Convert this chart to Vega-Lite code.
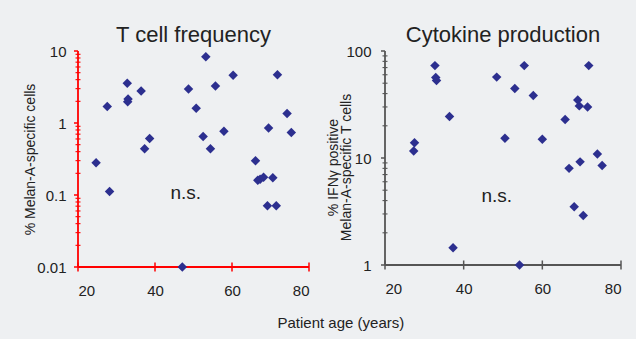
{
  "$schema": "https://vega.github.io/schema/vega-lite/v6.json",
  "background": "#eef0f2",
  "padding": {"left": 23, "top": 24, "right": 14, "bottom": 9},
  "spacing": 16,
  "config": {
    "font": "Liberation Sans",
    "view": {"stroke": null},
    "axis": {
      "grid": false,
      "domain": false,
      "ticks": false,
      "labelColor": "#222222",
      "titleColor": "#222222",
      "labelFontSize": 15,
      "titleFontSize": 14,
      "titleFontWeight": "normal"
    },
    "title": {"font": "Liberation Sans", "fontWeight": "normal", "color": "#222222"}
  },
  "title": {"text": "Patient age (years)", "orient": "bottom", "anchor": "middle", "fontSize": 15, "offset": 18, "dx": 18},
  "hconcat": [
    {
      "width": 231,
      "height": 216,
      "title": {"text": "T cell frequency", "fontSize": 22, "offset": -3},
      "layer": [
        {
          "data": {"values": [{"x": 20, "x2": 80, "y": 0.01, "y2": 0.01}, {"x": 20, "x2": 20, "y": 0.01, "y2": 10}]},
          "mark": {"type": "rule", "color": "red", "strokeWidth": 1.8, "opacity": 1},
          "encoding": {
            "x": {"field": "x", "type": "quantitative", "scale": {"domain": [20, 80]}, "axis": {"values": [20, 40, 60, 80], "title": null, "labelPadding": 16}},
            "x2": {"field": "x2"},
            "y": {"field": "y", "type": "quantitative", "scale": {"type": "log", "domain": [0.01, 10]},
              "axis": {"values": [0.01, 0.1, 1, 10], "title": "% Melan-A-specific cells", "labelPadding": 12, "titlePadding": -1,
                "labelExpr": "datum.value == 0.01 ? '0.01' : datum.value == 0.1 ? '0.1' : format(datum.value, 'd')"}},
            "y2": {"field": "y2"}
          }
        },
        {
          "data": {"values": [{"x": 20, "y": 0.01}, {"x": 40, "y": 0.01}, {"x": 60, "y": 0.01}, {"x": 80, "y": 0.01}]},
          "mark": {"type": "tick", "orient": "vertical", "color": "red", "size": 9, "thickness": 1.5, "opacity": 1},
          "encoding": {
            "x": {"field": "x", "type": "quantitative"},
            "y": {"field": "y", "type": "quantitative"}
          }
        },
        {
          "data": {"values": [{"x": 20, "y": 0.01}, {"x": 20, "y": 0.1}, {"x": 20, "y": 1}, {"x": 20, "y": 10}]},
          "mark": {"type": "tick", "orient": "horizontal", "color": "red", "size": 4, "thickness": 1.5, "opacity": 1, "xOffset": -2},
          "encoding": {
            "x": {"field": "x", "type": "quantitative"},
            "y": {"field": "y", "type": "quantitative"}
          }
        },
        {
          "data": {"values": [
            {"x": 20, "y": 0.02}, {"x": 20, "y": 0.03}, {"x": 20, "y": 0.04}, {"x": 20, "y": 0.05}, {"x": 20, "y": 0.06}, {"x": 20, "y": 0.07}, {"x": 20, "y": 0.08}, {"x": 20, "y": 0.09},
            {"x": 20, "y": 0.2}, {"x": 20, "y": 0.3}, {"x": 20, "y": 0.4}, {"x": 20, "y": 0.5}, {"x": 20, "y": 0.6}, {"x": 20, "y": 0.7}, {"x": 20, "y": 0.8}, {"x": 20, "y": 0.9},
            {"x": 20, "y": 2}, {"x": 20, "y": 3}, {"x": 20, "y": 4}, {"x": 20, "y": 5}, {"x": 20, "y": 6}, {"x": 20, "y": 7}, {"x": 20, "y": 8}, {"x": 20, "y": 9}
          ]},
          "mark": {"type": "tick", "orient": "horizontal", "color": "red", "size": 5, "thickness": 1.1, "opacity": 1},
          "encoding": {
            "x": {"field": "x", "type": "quantitative"},
            "y": {"field": "y", "type": "quantitative"}
          }
        },
        {
          "data": {"values": [
            {"x": 24.7, "y": 0.28},
            {"x": 27.6, "y": 1.69},
            {"x": 28.2, "y": 0.112},
            {"x": 32.8, "y": 3.56},
            {"x": 33.0, "y": 2.15},
            {"x": 32.9, "y": 1.98},
            {"x": 36.4, "y": 2.78},
            {"x": 37.3, "y": 0.44},
            {"x": 38.6, "y": 0.61},
            {"x": 47.1, "y": 0.01},
            {"x": 48.7, "y": 2.97},
            {"x": 50.7, "y": 1.6},
            {"x": 52.5, "y": 0.65},
            {"x": 53.2, "y": 8.3},
            {"x": 54.4, "y": 0.44},
            {"x": 55.7, "y": 3.27},
            {"x": 57.9, "y": 0.77},
            {"x": 60.3, "y": 4.6},
            {"x": 66.1, "y": 0.30},
            {"x": 66.7, "y": 0.16},
            {"x": 67.3, "y": 0.165},
            {"x": 68.2, "y": 0.176},
            {"x": 69.2, "y": 0.071},
            {"x": 69.5, "y": 0.85},
            {"x": 70.6, "y": 0.174},
            {"x": 71.5, "y": 0.071},
            {"x": 71.8, "y": 4.69},
            {"x": 74.3, "y": 1.36},
            {"x": 75.4, "y": 0.74}
          ]},
          "mark": {"type": "point", "shape": "diamond", "filled": true, "size": 90, "color": "#2c2f8f", "opacity": 1},
          "encoding": {
            "x": {"field": "x", "type": "quantitative"},
            "y": {"field": "y", "type": "quantitative"}
          }
        },
        {
          "data": {"values": [{"x": 48, "y": 0.105, "label": "n.s."}]},
          "mark": {"type": "text", "fontSize": 19, "align": "center", "baseline": "middle", "color": "#222222"},
          "encoding": {
            "x": {"field": "x", "type": "quantitative"},
            "y": {"field": "y", "type": "quantitative"},
            "text": {"field": "label"}
          }
        }
      ]
    },
    {
      "width": 236,
      "height": 214,
      "title": {"text": "Cytokine production", "fontSize": 22, "offset": -3},
      "layer": [
        {
          "data": {"values": [{"x": 20, "x2": 80, "y": 1, "y2": 1}, {"x": 20, "x2": 20, "y": 1, "y2": 100}]},
          "mark": {"type": "rule", "color": "#555555", "strokeWidth": 1.8, "opacity": 1},
          "encoding": {
            "x": {"field": "x", "type": "quantitative", "scale": {"domain": [20, 80]}, "axis": {"values": [20, 40, 60, 80], "title": null, "labelPadding": 16}},
            "x2": {"field": "x2"},
            "y": {"field": "y", "type": "quantitative", "scale": {"type": "log", "domain": [1, 100]},
              "axis": {"values": [1, 10, 100], "format": "d", "title": ["% IFNγ positive", "Melan-A-specific T cells"], "titleLineHeight": 13, "titleY": 116, "labelPadding": 14, "titlePadding": -8}},
            "y2": {"field": "y2"}
          }
        },
        {
          "data": {"values": [{"x": 20, "y": 1}, {"x": 40, "y": 1}, {"x": 60, "y": 1}, {"x": 80, "y": 1}]},
          "mark": {"type": "tick", "orient": "vertical", "color": "#555555", "size": 9, "thickness": 1.5, "opacity": 1},
          "encoding": {
            "x": {"field": "x", "type": "quantitative"},
            "y": {"field": "y", "type": "quantitative"}
          }
        },
        {
          "data": {"values": [{"x": 20, "y": 1}, {"x": 20, "y": 10}, {"x": 20, "y": 100}]},
          "mark": {"type": "tick", "orient": "horizontal", "color": "#555555", "size": 4, "thickness": 1.5, "opacity": 1, "xOffset": -2},
          "encoding": {
            "x": {"field": "x", "type": "quantitative"},
            "y": {"field": "y", "type": "quantitative"}
          }
        },
        {
          "data": {"values": [
            {"x": 20, "y": 2}, {"x": 20, "y": 3}, {"x": 20, "y": 4}, {"x": 20, "y": 5}, {"x": 20, "y": 6}, {"x": 20, "y": 7}, {"x": 20, "y": 8}, {"x": 20, "y": 9},
            {"x": 20, "y": 20}, {"x": 20, "y": 30}, {"x": 20, "y": 40}, {"x": 20, "y": 50}, {"x": 20, "y": 60}, {"x": 20, "y": 70}, {"x": 20, "y": 80}, {"x": 20, "y": 90}
          ]},
          "mark": {"type": "tick", "orient": "horizontal", "color": "#555555", "size": 5, "thickness": 1.1, "opacity": 1},
          "encoding": {
            "x": {"field": "x", "type": "quantitative"},
            "y": {"field": "y", "type": "quantitative"}
          }
        },
        {
          "data": {"values": [
            {"x": 27.3, "y": 11.6},
            {"x": 27.5, "y": 13.9},
            {"x": 32.7, "y": 73},
            {"x": 32.9, "y": 56.5},
            {"x": 33.1, "y": 53},
            {"x": 36.4, "y": 24.4},
            {"x": 37.3, "y": 1.45},
            {"x": 48.4, "y": 57},
            {"x": 50.5, "y": 15.3},
            {"x": 53.0, "y": 44.6},
            {"x": 54.2, "y": 1.0},
            {"x": 55.4, "y": 73},
            {"x": 57.7, "y": 38.4},
            {"x": 60.0, "y": 15},
            {"x": 65.8, "y": 22.9},
            {"x": 66.8, "y": 8.0},
            {"x": 68.1, "y": 3.5},
            {"x": 69.0, "y": 34.9},
            {"x": 69.4, "y": 30.7},
            {"x": 69.6, "y": 9.2},
            {"x": 70.4, "y": 2.9},
            {"x": 71.5, "y": 30},
            {"x": 71.8, "y": 73},
            {"x": 74.0, "y": 10.9},
            {"x": 75.2, "y": 8.5}
          ]},
          "mark": {"type": "point", "shape": "diamond", "filled": true, "size": 90, "color": "#2c2f8f", "opacity": 1},
          "encoding": {
            "x": {"field": "x", "type": "quantitative"},
            "y": {"field": "y", "type": "quantitative"}
          }
        },
        {
          "data": {"values": [{"x": 48.4, "y": 4.4, "label": "n.s."}]},
          "mark": {"type": "text", "fontSize": 19, "align": "center", "baseline": "middle", "color": "#222222"},
          "encoding": {
            "x": {"field": "x", "type": "quantitative"},
            "y": {"field": "y", "type": "quantitative"},
            "text": {"field": "label"}
          }
        }
      ]
    }
  ]
}
